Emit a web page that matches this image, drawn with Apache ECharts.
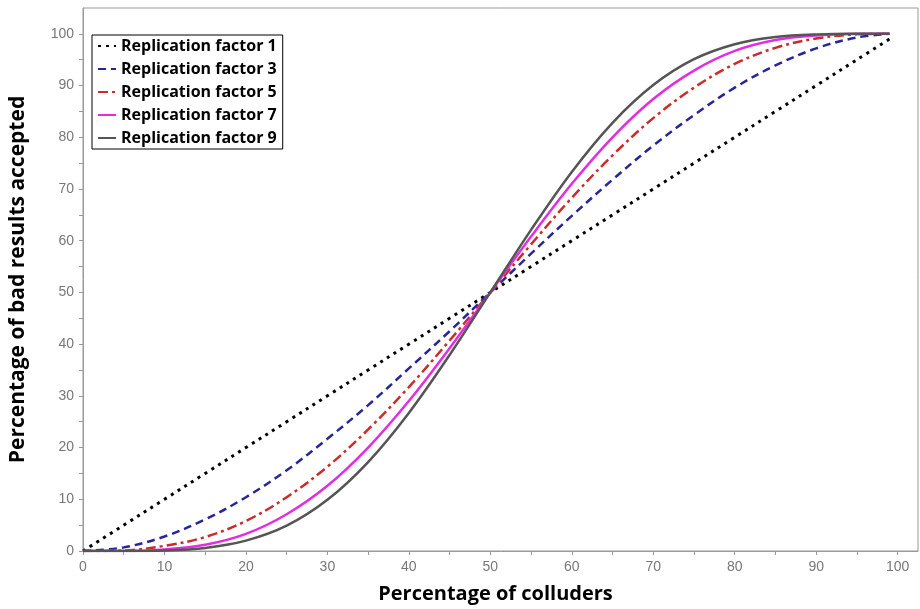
<!DOCTYPE html>
<html>
<head>
    <meta charset="utf-8">
    <script src="https://cdn.jsdelivr.net/npm/echarts@6/dist/echarts.min.js"></script>
    <style>
        body { margin: 0; background: #fff; }
    </style>
</head>
<body>
<div id="main" style="width: 920px;height:609px;"></div>
<script type="text/javascript">
    // percentage of colluders (x)
    var colluders = [0, 5, 10, 15, 20, 25, 30, 35, 40, 45, 50, 55, 60, 65, 70, 75, 80, 85, 90, 95, 99];

    // percentage of bad results accepted, one array per replication factor
    var factor1 = [0, 5, 10, 15, 20, 25, 30, 35, 40, 45, 50, 55, 60, 65, 70, 75, 80, 85, 90, 95, 99];
    var factor3 = [0, 0.7, 2.8, 6.1, 10.4, 15.6, 21.7, 28.2, 35.3, 42.5, 50, 57.5, 64.8, 71.8, 78.4, 84.3, 89.6, 93.9, 97.2, 99.3, 100];
    var factor5 = [0, 0.1, 1.0, 2.7, 5.8, 10.4, 16.3, 23.5, 31.7, 40.7, 50, 59.3, 68.3, 76.5, 83.7, 89.6, 94.2, 97.3, 99.1, 99.9, 100];
    var factor7 = [0, 0, 0.3, 1.2, 3.3, 7.1, 12.6, 20.0, 29.0, 39.2, 50, 60.8, 71.0, 80.0, 87.4, 92.9, 96.7, 98.8, 99.7, 100, 100];
    var factor9 = [0, 0, 0.1, 0.6, 2.0, 4.9, 9.9, 17.2, 26.7, 37.9, 50, 62.1, 73.3, 82.8, 90.1, 95.1, 98.0, 99.4, 99.9, 100, 100];

    var seriesNames = ['Replication factor 1', 'Replication factor 3', 'Replication factor 5', 'Replication factor 7', 'Replication factor 9'];
    var seriesValues = [factor1, factor3, factor5, factor7, factor9];
    var seriesColors = ['#000000', '#26269a', '#cc2b2b', '#e22ee2', '#555555'];
    var seriesDash = [[3, 5], [8, 5], [10, 4, 3, 4], 'solid', 'solid'];
    var seriesWidth = [3, 2.5, 2.5, 2.5, 2.5];

    function pairs(ys) {
        return colluders.map(function (x, i) { return [x, ys[i]]; });
    }

    var myChart = echarts.init(document.getElementById('main'));

    var tickFont = { fontFamily: 'Liberation Sans', fontSize: 14, color: '#777' };

    var option = {
        backgroundColor: '#fff',
        animation: false,
        grid: {
            left: 76, top: 8, right: 2, bottom: 48,
            show: true, borderColor: '#999', borderWidth: 1
        },
        legend: {
            orient: 'vertical',
            left: 92, top: 35,
            padding: [3, 6, 3, 5],
            itemWidth: 18, itemHeight: 14, itemGap: 7,
            borderColor: '#000', borderWidth: 1,
            backgroundColor: '#fff',
            itemStyle: { opacity: 0 },
            textStyle: { fontFamily: 'Open Sans', fontWeight: 'bold', fontSize: 16, color: '#000', lineHeight: 15 },
            data: seriesNames
        },
        xAxis: {
            type: 'value',
            min: 0, max: 102.5, interval: 5,
            offset: 3,
            name: 'Percentage of colluders',
            nameLocation: 'middle', nameGap: 30,
            nameTextStyle: { fontFamily: 'Open Sans', fontWeight: 'bold', fontSize: 20, color: '#000', padding: [0, 10, 0, 0] },
            axisLine: { lineStyle: { color: '#999' } },
            axisTick: { length: 4, lineStyle: { color: '#999' } },
            axisLabel: Object.assign({
                margin: 6, showMaxLabel: false,
                formatter: function (v) { return v % 10 === 0 ? String(v) : ''; }
            }, tickFont),
            splitLine: { show: false }
        },
        yAxis: {
            type: 'value',
            min: 0, max: 105, interval: 5,
            offset: 5,
            name: 'Percentage of bad results accepted',
            nameLocation: 'middle', nameGap: 49,
            nameTextStyle: { fontFamily: 'Open Sans', fontWeight: 'bold', fontSize: 21, color: '#000', padding: [0, 0, 0, 0] },
            axisLine: { show: true, lineStyle: { color: '#999' } },
            axisTick: { show: true, length: 4, lineStyle: { color: '#999' } },
            axisLabel: Object.assign({
                margin: 4, showMaxLabel: false,
                formatter: function (v) { return v % 10 === 0 ? String(v) : ''; }
            }, tickFont),
            splitLine: { show: false }
        },
        series: seriesNames.map(function (name, i) {
            return {
                name: name,
                type: 'line',
                data: pairs(seriesValues[i]),
                showSymbol: false,
                symbol: 'none',
                smooth: 0.35,
                color: seriesColors[i],
                lineStyle: { color: seriesColors[i], width: seriesWidth[i], type: seriesDash[i] }
            };
        })
    };

    myChart.setOption(option);
</script>
</body>
</html>
